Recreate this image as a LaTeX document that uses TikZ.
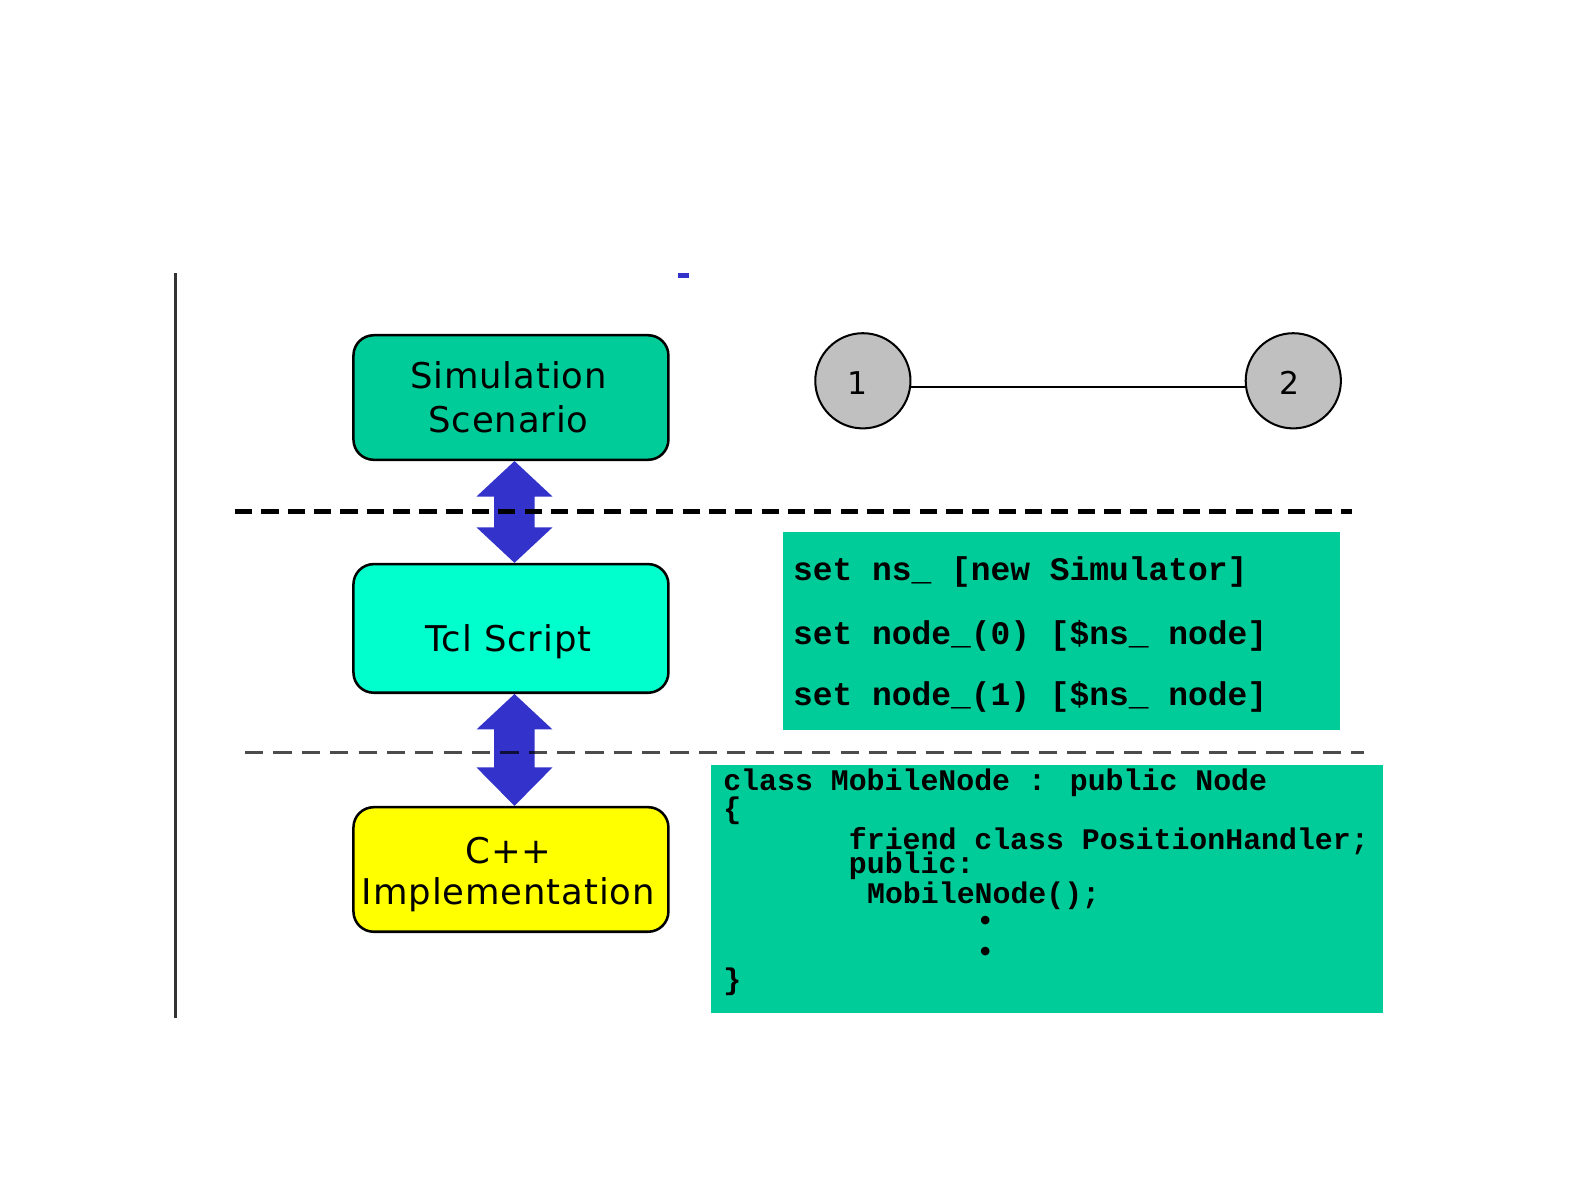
\documentclass[tikz,border=0pt]{standalone}
\usepackage{fontspec}
\setmainfont{DejaVu Sans}
\newfontfamily\boxfont[LetterSpace=2.5]{DejaVu Sans}
\newfontfamily\codefont{Liberation Mono}
\usetikzlibrary{calc}
\definecolor{scen}{RGB}{0,204,153}
\definecolor{tclcol}{RGB}{0,255,204}
\definecolor{cppyellow}{RGB}{255,255,0}
\definecolor{arrowblue}{RGB}{51,51,204}
\definecolor{nodegray}{RGB}{192,192,192}
\begin{document}
\begin{tikzpicture}[x=1pt,y=-1pt,
  layerbox/.style={draw=black, line width=2.5pt, rounded corners=20pt, minimum width=311pt, inner sep=0pt},
  boxlabel/.style={font=\boxfont\fontsize{35}{43}\selectfont, anchor=base, inner sep=0pt},
  codebox/.style={fill=scen, inner sep=0pt, anchor=north west},
  codeA/.style={font=\codefont\bfseries\fontsize{32.5}{40}\selectfont, anchor=base west, inner sep=0pt},
  codeB/.style={font=\codefont\bfseries\fontsize{29.5}{30}\selectfont, anchor=base west, inner sep=0pt},
  codedot/.style={font=\codefont\bfseries\fontsize{29.5}{30}\selectfont, anchor=center, inner sep=0pt},
  netnode/.style={circle, draw=black, line width=2pt, fill=nodegray, minimum size=94pt, inner sep=0pt, font=\fontsize{31}{36}\selectfont},
  dblarrow/.style={fill=arrowblue},
  sepA/.style={line width=5pt, dash pattern=on 17pt off 9pt},
  sepB/.style={line width=3.5pt, draw=black, opacity=0.7, dash pattern=on 18pt off 10pt},
  frameline/.style={line width=3pt, draw=black!80},
]
\useasboundingbox (0,0) rectangle (1568,1176);

% left frame line and small blue mark
\coordinate (vt) at (173,270);
\coordinate (vb) at (173,1005);
\draw[frameline] (vt) -- (vb);
\fill[arrowblue] (669,270) rectangle (680,274);

% layer boxes
\node[layerbox, fill=scen, minimum height=123pt] (s1) at (504.5,392.5) {};
\node[boxlabel] (s1a) at (502,384) {Simulation};
\node[boxlabel] (s1b) at (502,427) {Scenario};

\node[layerbox, fill=tclcol, minimum height=127pt] (s2) at (504.5,620.5) {};
\node[boxlabel] (s2a) at (502,643) {Tcl Script};

\node[layerbox, fill=cppyellow, minimum height=123pt] (s3) at (504.5,858.5) {};
\node[boxlabel] (s3a) at (502,853) {C++};
\node[boxlabel] (s3b) at (502,893) {Implementation};

% double arrows
\fill[dblarrow] ($(s1.south)+(3.5,0)$) -- ($(s1.south)+(41,35)$) -- ($(s1.south)+(23.5,35)$)
  -- ($(s2.north)+(23.5,-35)$) -- ($(s2.north)+(41,-35)$) -- ($(s2.north)+(3.5,0)$)
  -- ($(s2.north)+(-34,-35)$) -- ($(s2.north)+(-16.5,-35)$) -- ($(s1.south)+(-16.5,35)$)
  -- ($(s1.south)+(-34,35)$) -- cycle;
\fill[dblarrow] ($(s2.south)+(3.5,0)$) -- ($(s2.south)+(41,35)$) -- ($(s2.south)+(23.5,35)$)
  -- ($(s3.north)+(23.5,-38)$) -- ($(s3.north)+(41,-38)$) -- ($(s3.north)+(3.5,0)$)
  -- ($(s3.north)+(-34,-38)$) -- ($(s3.north)+(-16.5,-38)$) -- ($(s2.south)+(-16.5,35)$)
  -- ($(s2.south)+(-34,35)$) -- cycle;

% separators
\coordinate (d1l) at (232,505);
\coordinate (d1r) at (1335,505);
\draw[sepA] (d1l) -- (d1r);
\coordinate (d2l) at (242,743);
\coordinate (d2r) at (1347,743);
\draw[sepB] (d2l) -- (d2r);

% network
\draw[line width=2pt] (852,382) coordinate (lk1) -- (1277,382) coordinate (lk2);
\node[netnode] (n1) at (852,376) {};
\node[netnode] (n2) at (1277,376) {};
\node[font=\fontsize{31}{36}\selectfont, inner sep=0pt] (n1t) at (847,378) {1};
\node[font=\fontsize{31}{36}\selectfont, inner sep=0pt] (n2t) at (1273,378) {2};

% Tcl code box
\node[codebox, minimum width=550pt, minimum height=196pt] (c1) at (773,525) {};
\node[codeA] (c1a) at (783,573) {set ns\_ [new Simulator]};
\node[codeA] (c1b) at (783,636) {set node\_(0) [\$ns\_ node]};
\node[codeA] (c1c) at (783,697) {set node\_(1) [\$ns\_ node]};

% C++ code box
\node[codebox, minimum width=663pt, minimum height=245pt] (c2) at (702,755) {};
\node[codeB] (c2a) at (714,781) {class MobileNode : public Node};
\node[codeB] (c2b) at (714,808) {\{};
\node[codeB] (c2c) at (838,839) {friend class PositionHandler;};
\node[codeB] (c2d) at (838,862) {public:};
\node[codeB] (c2e) at (856,892) {MobileNode();};
\node[codedot] (c2f) at (973,912) {•};
\node[codedot] (c2g) at (973,942) {•};
\node[codeB] (c2h) at (714,977) {\}};
\end{tikzpicture}
\end{document}
